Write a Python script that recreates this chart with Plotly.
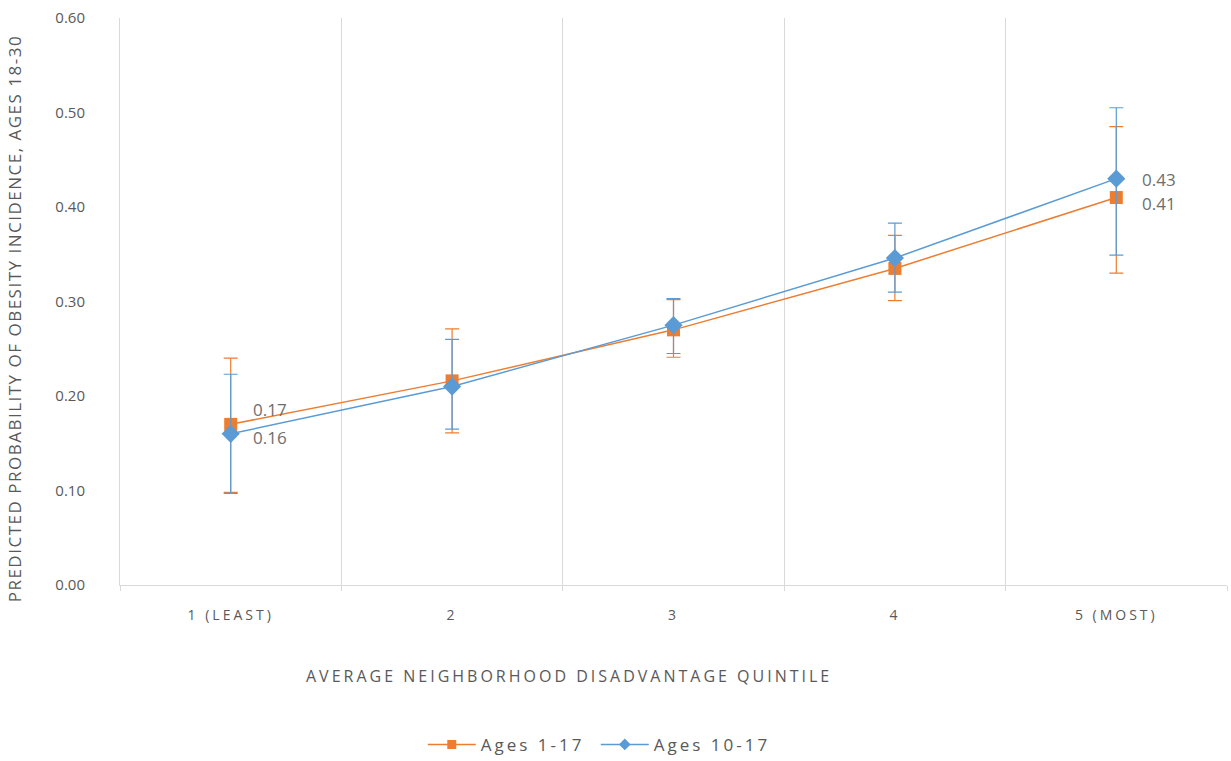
import plotly.graph_objects as go

# Neighborhood disadvantage quintiles (category axis)
quintiles = ["1 (LEAST)", "2", "3", "4", "5 (MOST)"]

# Predicted probability of obesity incidence at ages 18-30
ages_1_17 = [0.17, 0.216, 0.27, 0.335, 0.41]
ages_1_17_upper = [0.240, 0.271, 0.302, 0.370, 0.485]
ages_1_17_lower = [0.098, 0.161, 0.241, 0.301, 0.330]

ages_10_17 = [0.16, 0.210, 0.275, 0.346, 0.43]
ages_10_17_upper = [0.223, 0.260, 0.303, 0.383, 0.505]
ages_10_17_lower = [0.097, 0.165, 0.245, 0.310, 0.349]

y_ticks = [0.0, 0.1, 0.2, 0.3, 0.4, 0.5, 0.6]

X_TITLE = "AVERAGE NEIGHBORHOOD DISADVANTAGE QUINTILE"
Y_TITLE = "PREDICTED PROBABILITY OF OBESITY INCIDENCE, AGES 18-30"

ORANGE = "#ED7D31"
BLUE = "#5B9BD5"
GRAY_TEXT = "#595959"
LABEL_GRAY = "#6E6E6E"
FONT = "'Open Sans', Lato, sans-serif"


def err(values, upper, lower, color):
    return dict(type="data", symmetric=False,
                array=[u - v for u, v in zip(upper, values)],
                arrayminus=[v - l for v, l in zip(values, lower)],
                color=color, thickness=1.2, width=7)


fig = go.Figure()

series = [
    ("Ages 1-17", ages_1_17, ages_1_17_upper, ages_1_17_lower, ORANGE, "square", 13),
    ("Ages 10-17", ages_10_17, ages_10_17_upper, ages_10_17_lower, BLUE, "diamond", 14),
]

for name, vals, up, lo, color, symbol, size in series:
    fig.add_trace(go.Scatter(
        x=quintiles, y=vals, name=name, showlegend=False,
        mode="lines+markers",
        line=dict(color=color, width=1.5),
        marker=dict(symbol=symbol, size=size, color=color),
        error_y=err(vals, up, lo, color),
        cliponaxis=False,
    ))

# legend entries with smaller key markers
for name, vals, up, lo, color, symbol, size in series:
    fig.add_trace(go.Scatter(
        x=[None], y=[None], name=name, mode="lines+markers",
        line=dict(color=color, width=1.5),
        marker=dict(symbol=symbol, size=9, color=color),
    ))

# value labels at the first and last quintile (pixel offsets: right of marker, nudged apart)
label_specs = [
    (ages_1_17, 0, 15), (ages_1_17, -1, -6),
    (ages_10_17, 0, -4), (ages_10_17, -1, -1),
]
annotations = []
for vals, idx, dy in label_specs:
    annotations.append(dict(
        x=quintiles[idx], y=vals[idx], xref="x", yref="y",
        text=f"{vals[idx]:.2f}", showarrow=False, borderpad=0,
        xanchor="left", yanchor="middle", xshift=21 if idx == 0 else 25, yshift=dy,
        font=dict(family=FONT, size=17, color=LABEL_GRAY),
    ))

annotations += [
    dict(text=X_TITLE,
         xref="paper", yref="paper", x=0.4056, y=-0.160,
         xanchor="center", yanchor="middle", showarrow=False,
         font=dict(family=FONT, size=16, color=GRAY_TEXT)),
    dict(text=Y_TITLE,
         xref="paper", yref="paper", x=-0.0955, y=0.470,
         xanchor="center", yanchor="middle", showarrow=False, textangle=-90,
         font=dict(family=FONT, size=17, color=GRAY_TEXT)),
]

fig.update_layout(
    width=1231, height=761,
    margin=dict(l=120, r=4, t=18, b=176, autoexpand=False),
    paper_bgcolor="white", plot_bgcolor="white",
    font=dict(family=FONT, color=GRAY_TEXT),
    showlegend=True,
    legend=dict(orientation="h", x=0.2735, xanchor="left", y=-0.282, yanchor="middle",
                font=dict(family=FONT, size=17, color=GRAY_TEXT),
                traceorder="normal", itemwidth=48,
                entrywidth=110, entrywidthmode="pixels"),
    xaxis=dict(
        type="category", tickson="boundaries",
        range=[-0.5, len(quintiles) - 0.5],
        showgrid=True, gridcolor="#D9D9D9", gridwidth=1,
        showline=True, linecolor="#D9D9D9", linewidth=1,
        ticks="outside", ticklen=5, tickcolor="#D9D9D9",
        ticklabelstandoff=17,
        tickfont=dict(family=FONT, size=14, color=GRAY_TEXT),
        zeroline=False,
    ),
    yaxis=dict(
        range=[0, 0.6], tickvals=y_ticks,
        ticktext=[f"{t:.2f}" for t in y_ticks],
        showgrid=False, zeroline=False,
        showline=True, linecolor="#D9D9D9", linewidth=1,
        ticklabelstandoff=31,
        tickfont=dict(family=FONT, size=15, color=GRAY_TEXT),
    ),
    annotations=annotations,
)

# widen character spacing on category labels, titles and legend text
spacing_js = """
var gd = document.getElementById('{plot_id}');
function spaced(nodes, v) { nodes.forEach(function (t) { t.style.letterSpacing = v; }); }
spaced(gd.querySelectorAll('.xtick text'), '3px');
spaced(gd.querySelectorAll('.legendtext'), '3px');
gd.querySelectorAll('.annotation-text').forEach(function (t) {
    if (t.textContent === %s) { t.style.letterSpacing = '3px'; }
    if (t.textContent === %s) { t.style.letterSpacing = '1.5px'; }
});
""" % (repr(X_TITLE), repr(Y_TITLE))

fig.write_html("out.html", post_script=spacing_js)
